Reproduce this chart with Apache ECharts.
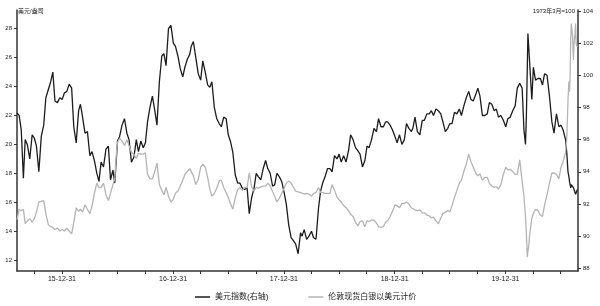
<!DOCTYPE html>
<html><head><meta charset="utf-8">
<script src="https://cdn.jsdelivr.net/npm/echarts@6/dist/echarts.min.js"></script>
<style>html,body{margin:0;padding:0;background:#fff}#c{width:600px;height:306px}</style>
</head><body><div id="c"></div>
<script>
const dates = [
'2015-08-05','2015-08-12','2015-08-19','2015-08-26',
'2015-09-01','2015-09-08','2015-09-16','2015-09-24',
'2015-10-01','2015-10-08','2015-10-16','2015-10-24',
'2015-11-01','2015-11-08','2015-11-16','2015-11-24',
'2015-12-01','2015-12-08','2015-12-16','2015-12-24',
'2016-01-01','2016-01-08','2016-01-16','2016-01-24',
'2016-02-01','2016-02-08','2016-02-16','2016-02-24',
'2016-03-01','2016-03-08','2016-03-16','2016-03-24',
'2016-04-01','2016-04-08','2016-04-16','2016-04-24',
'2016-05-01','2016-05-08','2016-05-16','2016-05-24',
'2016-06-01','2016-06-08','2016-06-16','2016-06-22','2016-06-28',
'2016-07-01','2016-07-08','2016-07-16','2016-07-24',
'2016-08-01','2016-08-08','2016-08-16','2016-08-24',
'2016-09-01','2016-09-08','2016-09-16','2016-09-24',
'2016-10-01','2016-10-08','2016-10-16','2016-10-24',
'2016-11-01','2016-11-08','2016-11-16','2016-11-24',
'2016-12-01','2016-12-08','2016-12-16','2016-12-24',
'2017-01-01','2017-01-08','2017-01-16','2017-01-24',
'2017-02-01','2017-02-08','2017-02-16','2017-02-24',
'2017-03-01','2017-03-08','2017-03-16','2017-03-24',
'2017-04-01','2017-04-08','2017-04-16','2017-04-24',
'2017-05-01','2017-05-08','2017-05-16','2017-05-24',
'2017-06-01','2017-06-08','2017-06-16','2017-06-24',
'2017-07-01','2017-07-08','2017-07-16','2017-07-24',
'2017-08-01','2017-08-08','2017-08-16','2017-08-24',
'2017-09-01','2017-09-08','2017-09-16','2017-09-24',
'2017-10-01','2017-10-08','2017-10-16','2017-10-24',
'2017-11-01','2017-11-08','2017-11-16','2017-11-24',
'2017-12-01','2017-12-08','2017-12-16','2017-12-24',
'2018-01-01','2018-01-08','2018-01-16','2018-01-24',
'2018-02-01','2018-02-08','2018-02-16','2018-02-24',
'2018-03-01','2018-03-08','2018-03-16','2018-03-24',
'2018-04-01','2018-04-08','2018-04-16','2018-04-24',
'2018-05-01','2018-05-08','2018-05-16','2018-05-24',
'2018-06-01','2018-06-08','2018-06-16','2018-06-24',
'2018-07-01','2018-07-08','2018-07-16','2018-07-24',
'2018-08-01','2018-08-08','2018-08-16','2018-08-24',
'2018-09-01','2018-09-08','2018-09-16','2018-09-24',
'2018-10-01','2018-10-08','2018-10-16','2018-10-24',
'2018-11-01','2018-11-08','2018-11-16','2018-11-24',
'2018-12-01','2018-12-08','2018-12-16','2018-12-24',
'2019-01-01','2019-01-08','2019-01-16','2019-01-24',
'2019-02-01','2019-02-08','2019-02-16','2019-02-24',
'2019-03-01','2019-03-08','2019-03-16','2019-03-24',
'2019-04-01','2019-04-08','2019-04-16','2019-04-24',
'2019-05-01','2019-05-08','2019-05-16','2019-05-24',
'2019-06-01','2019-06-08','2019-06-16','2019-06-24',
'2019-07-01','2019-07-08','2019-07-16','2019-07-24',
'2019-08-01','2019-08-08','2019-08-16','2019-08-24',
'2019-09-01','2019-09-08','2019-09-16','2019-09-24',
'2019-10-01','2019-10-08','2019-10-16','2019-10-24',
'2019-11-01','2019-11-08','2019-11-16','2019-11-24',
'2019-12-01','2019-12-08','2019-12-16','2019-12-24',
'2020-01-01','2020-01-08','2020-01-16','2020-01-24',
'2020-02-01','2020-02-08','2020-02-16','2020-02-24',
'2020-03-01','2020-03-06','2020-03-09','2020-03-12','2020-03-14','2020-03-17','2020-03-20','2020-03-24','2020-03-27',
'2020-04-01','2020-04-08','2020-04-16','2020-04-24',
'2020-05-01','2020-05-08','2020-05-16','2020-05-24',
'2020-06-01','2020-06-08','2020-06-16','2020-06-24',
'2020-07-01','2020-07-08','2020-07-16','2020-07-20','2020-07-24','2020-07-27','2020-07-29','2020-07-31',
'2020-08-02','2020-08-04','2020-08-06','2020-08-08','2020-08-11','2020-08-13','2020-08-16','2020-08-18','2020-08-20','2020-08-24'
];
// 美元指数 (right axis)
const dxy = [
97.66,97.5,96.6,93.6,
96.0,95.7,94.8,96.3,
96.1,95.6,94.0,96.2,
96.9,98.6,99.1,99.6,
100.2,98.4,98.3,98.6,
98.5,98.9,99.0,99.45,
99.2,96.8,95.8,97.8,
98.2,97.4,96.4,96.5,
95.0,95.25,94.7,93.9,
93.4,94.6,94.3,95.4,
95.6,93.5,94.1,93.3,95.0,
95.9,96.2,96.9,97.3,
96.4,96.0,94.6,94.9,
96.0,95.25,95.9,95.5,
95.8,97.1,98.0,98.7,
97.8,96.9,99.6,101.2,
101.35,100.6,102.9,103.1,
102.0,101.8,101.2,100.4,
99.9,100.5,101.0,101.3,
101.8,102.1,101.1,100.1,
99.7,100.9,100.2,99.4,
99.25,99.6,98.0,97.3,
97.0,96.8,97.4,97.3,
96.3,95.9,95.2,93.8,
93.3,93.3,93.0,92.9,
93.0,91.4,92.4,93.0,
93.9,93.7,93.5,94.2,
94.7,94.2,93.9,93.1,
93.2,93.9,93.7,93.4,
92.7,92.0,90.7,89.9,
89.7,89.5,88.9,90.2,
90.0,90.4,89.8,90.0,
90.3,89.9,89.8,91.7,
92.8,93.3,93.7,94.2,
94.2,94.0,95.0,94.8,
95.1,94.6,95.0,94.6,
95.3,96.3,96.0,95.5,
95.3,95.1,94.3,94.7,
95.6,95.5,96.0,96.7,
96.5,97.3,96.8,96.8,
97.1,97.1,96.9,96.6,
96.2,95.8,96.3,95.7,
96.0,97.0,96.7,96.5,
96.7,97.4,96.5,96.3,
97.2,97.2,97.6,97.6,
97.8,97.5,97.9,97.8,
97.6,97.1,96.5,96.7,
97.0,97.0,97.7,97.6,
97.9,97.5,98.1,98.6,
99.0,98.5,98.4,98.8,
99.2,98.7,97.5,97.5,
97.6,98.3,98.2,97.8,
97.9,97.4,97.5,97.2,
96.8,97.3,97.4,97.8,
98.1,99.2,99.5,99.2,
96.6,95.7,97.5,100.5,102.6,102.5,100.7,99.4,98.5,
100.5,99.7,99.8,99.8,
99.4,100.1,100.0,98.7,
97.1,96.4,97.6,96.8,
96.9,96.6,96.0,95.2,94.0,93.7,93.4,93.2,
93.0,93.2,93.3,93.2,93.0,93.1,93.0,92.6,92.6,92.9
];
// 伦敦现货白银以美元计价 (left axis, 美元/盎司)
const silver = [
14.76,15.5,15.4,15.5,
14.5,14.7,14.85,14.6,
14.85,15.3,16.0,16.05,
16.1,15.2,14.45,14.3,
14.25,14.1,14.2,14.0,
14.1,14.0,14.2,14.0,
13.8,14.6,15.6,15.35,
15.5,15.3,15.8,15.5,
15.2,15.7,16.6,17.3,
17.0,17.0,17.3,16.5,
16.1,16.6,17.2,17.6,19.5,
20.1,20.4,20.2,19.9,
20.3,19.9,19.4,19.3,
19.0,19.36,19.3,19.3,
19.4,17.9,17.6,17.6,
18.1,18.7,17.2,16.8,
16.5,17.0,16.4,16.0,
16.2,16.6,16.75,17.1,
17.5,17.9,18.1,18.3,
18.3,17.8,17.2,17.55,
18.4,18.6,18.4,17.7,
16.9,16.4,16.6,16.95,
17.45,17.5,17.0,16.65,
16.3,15.9,15.5,16.3,
16.85,17.0,16.8,17.0,
17.0,18.0,17.05,16.75,
17.0,16.95,17.05,17.1,
17.1,17.3,17.1,16.7,
16.4,16.0,16.25,16.6,
16.95,17.3,17.45,17.3,
17.0,16.75,16.7,16.65,
16.7,16.55,16.6,16.55,
16.4,16.6,16.65,17.0,
16.65,16.65,16.6,16.6,
16.6,17.2,16.8,16.35,
16.15,16.0,15.75,15.6,
15.4,15.15,15.0,14.6,
14.35,14.65,14.7,14.3,
14.7,14.65,14.76,14.75,
14.55,14.3,14.25,14.3,
14.6,14.7,15.0,15.35,
15.8,15.75,15.6,15.9,
15.9,16.0,15.85,15.6,
15.7,15.45,15.4,15.45,
15.25,15.25,15.1,15.05,
14.9,14.95,14.7,14.5,
14.9,15.2,15.3,15.4,
15.33,15.75,16.3,16.8,
17.3,17.5,18.1,18.6,
19.3,18.8,18.4,18.0,
17.8,17.95,17.5,17.7,
17.7,17.3,17.1,17.0,
17.05,16.9,17.2,17.9,
18.4,18.2,18.25,18.1,
17.9,17.9,18.9,17.4,
16.4,15.0,13.8,12.2,12.6,13.0,13.8,14.4,14.9,
15.2,15.5,15.4,15.1,
15.0,15.8,16.5,17.3,
18.0,18.0,17.9,17.6,
18.4,18.8,19.4,20.4,23.0,24.3,23.6,24.6,
27.2,28.3,28.4,27.5,25.8,27.0,27.5,28.3,26.9,26.7
];
const xRange = ['2015-08-05', '2020-08-26'];
const xTicks = ['2015-09-30','2015-12-31','2016-03-31','2016-06-30','2016-09-30','2016-12-31',
  '2017-03-31','2017-06-30','2017-09-30','2017-12-31','2018-03-31','2018-06-30','2018-09-30','2018-12-31',
  '2019-03-31','2019-06-30','2019-09-30','2019-12-31','2020-03-31','2020-06-30'];
const xLabels = ['2015-12-31','2016-12-31','2017-12-31','2018-12-31','2019-12-31'];
const leftTicks = [12,14,16,18,20,22,24,26,28];
const rightTicks = [88,90,92,94,96,98,100,102,104];
const leftRange = [11.24, 29.24];
const rightRange = [87.83, 104.06];
const seriesNames = ['美元指数(右轴)', '伦敦现货白银以美元计价'];
const leftUnit = '美元/盎司';
const rightUnit = '1973年3月=100';

const FONT = '"Liberation Sans", Arial, "Noto Sans CJK SC", sans-serif';
const AXC = '#333';
const ts = s => Date.parse(s);
function fmt(v) {
  const d = new Date(v);
  const yy = String(d.getUTCFullYear()).slice(2);
  const mm = String(d.getUTCMonth() + 1).padStart(2, '0');
  const dd = String(d.getUTCDate()).padStart(2, '0');
  return yy + '-' + mm + '-' + dd;
}
const chart = echarts.init(document.getElementById('c'), null, {renderer: 'canvas'});
chart.setOption({
  animation: false,
  backgroundColor: '#fff',
  grid: {left: 17, right: 22, top: 10, bottom: 35, containLabel: false},
  legend: {
    left: 190, top: 288, itemWidth: 15, itemHeight: 1.5, itemGap: 40, icon: 'rect',
    data: seriesNames,
    textStyle: {fontSize: 8, color: '#222', fontFamily: FONT}
  },
  graphic: [
    {type: 'text', left: 18, top: 8, style: {text: leftUnit, fontSize: 6, fill: '#222', fontFamily: FONT}},
    {type: 'text', right: 25, top: 8, style: {text: rightUnit, fontSize: 6, fill: '#222', fontFamily: FONT}}
  ],
  xAxis: {
    type: 'value', min: ts(xRange[0]), max: ts(xRange[1]),
    axisLine: {show: true, onZero: false, lineStyle: {color: AXC, width: 1.5}},
    axisTick: {show: true, length: 3, customValues: xTicks.map(ts), lineStyle: {color: AXC}},
    axisLabel: {customValues: xLabels.map(ts), formatter: fmt, fontSize: 7, color: '#222', margin: 5, fontFamily: FONT},
    splitLine: {show: false}
  },
  yAxis: [
    {
      type: 'value', position: 'left', min: leftRange[0], max: leftRange[1],
      axisLine: {show: true, lineStyle: {color: AXC, width: 1.5}},
      axisTick: {show: true, length: 3, customValues: leftTicks, lineStyle: {color: AXC}},
      axisLabel: {customValues: leftTicks, fontSize: 6, color: '#222', margin: 5, fontFamily: FONT},
      splitLine: {show: false}
    },
    {
      type: 'value', position: 'right', min: rightRange[0], max: rightRange[1],
      axisLine: {show: true, lineStyle: {color: AXC, width: 1.5}},
      axisTick: {show: true, length: 3, customValues: rightTicks, lineStyle: {color: AXC}},
      axisLabel: {customValues: rightTicks, fontSize: 6, color: '#222', margin: 5, fontFamily: FONT},
      splitLine: {show: false}
    }
  ],
  series: [
    {
      name: seriesNames[0], type: 'line', yAxisIndex: 1, showSymbol: false, z: 2,
      data: dates.map((d, i) => [ts(d), dxy[i]]),
      lineStyle: {color: '#1c1c1c', width: 1.3}, itemStyle: {color: '#1c1c1c'}
    },
    {
      name: seriesNames[1], type: 'line', yAxisIndex: 0, showSymbol: false, z: 3,
      data: dates.map((d, i) => [ts(d), silver[i]]),
      lineStyle: {color: '#b4b4b4', width: 1.3}, itemStyle: {color: '#b4b4b4'}
    }
  ]
});
</script>
</body></html>
